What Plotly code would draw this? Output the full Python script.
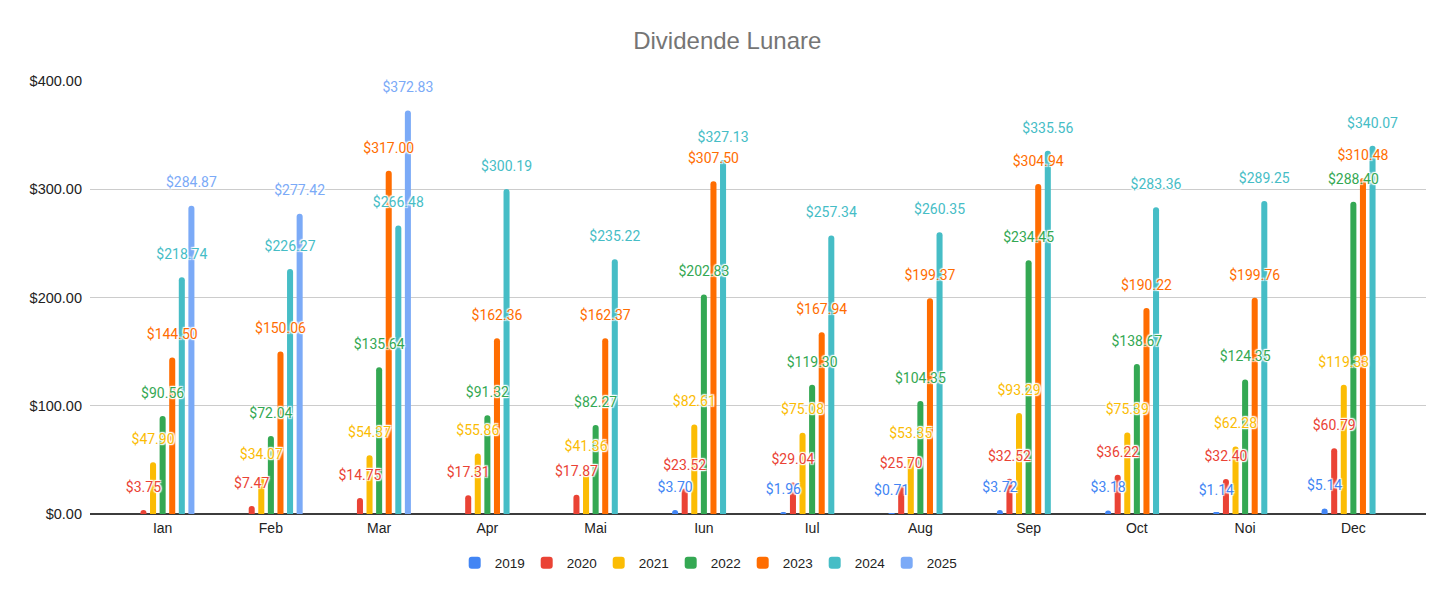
import plotly.graph_objects as go

# luni (categorii)
luni = ["Ian", "Feb", "Mar", "Apr", "Mai", "Iun", "Iul", "Aug", "Sep", "Oct", "Noi", "Dec"]

# dividende pe ani (None = lipsa)
d2019 = [None, None, None, None, None, 3.70, 1.96, 0.71, 3.72, 3.18, 1.14, 5.14]
d2020 = [3.75, 7.47, 14.75, 17.31, 17.87, 23.52, 29.04, 25.70, 32.52, 36.22, 32.40, 60.79]
d2021 = [47.90, 34.07, 54.37, 55.86, 41.36, 82.61, 75.08, 53.35, 93.29, 75.39, 62.28, 119.33]
d2022 = [90.56, 72.04, 135.64, 91.32, 82.27, 202.83, 119.30, 104.35, 234.45, 138.67, 124.35, 288.40]
d2023 = [144.50, 150.06, 317.00, 162.36, 162.37, 307.50, 167.94, 199.37, 304.94, 190.22, 199.76, 310.48]
d2024 = [218.74, 226.27, 266.48, 300.19, 235.22, 327.13, 257.34, 260.35, 335.56, 283.36, 289.25, 340.07]
d2025 = [284.87, 277.42, 372.83, None, None, None, None, None, None, None, None, None]

ani = ["2019", "2020", "2021", "2022", "2023", "2024", "2025"]
serii = [d2019, d2020, d2021, d2022, d2023, d2024, d2025]
culori = ["#4285F4", "#EA4335", "#FBBC04", "#34A853", "#FF6D01", "#46BDC6", "#7BAAF7"]

halo = "1px 1px 1px #fff, -1px -1px 1px #fff, 1px -1px 1px #fff, -1px 1px 1px #fff, 0px 0px 3px #fff"
GAP = 0.38

fig = go.Figure()
for an, vals, c in zip(ani, serii, culori):
    fig.add_trace(go.Bar(
        x=luni, y=vals, name=an,
        marker=dict(color=c, line=dict(width=0)),
        hovertemplate="%{x} " + an + ": $%{y:.2f}<extra></extra>",
    ))

# etichetele: scatter grupat ca barele, markerul invizibil da distanta fata de bara
for an, vals, c in zip(ani, serii, culori):
    fig.add_trace(go.Scatter(
        x=luni, y=vals, name=an, showlegend=False, hoverinfo="skip",
        mode="markers+text",
        marker=dict(size=22, color="rgba(0,0,0,0)", line=dict(width=0)),
        texttemplate="$%{y:.2f}",
        textposition="top center",
        cliponaxis=False,
        textfont=dict(family="Roboto", size=14, color=c, shadow=halo),
    ))

fig.update_layout(
    width=1456, height=601,
    paper_bgcolor="white", plot_bgcolor="white",
    margin=dict(l=82, r=38, t=73, b=95),
    title=dict(text="Dividende Lunare", x=0.494, xanchor="center", y=0.945, yanchor="middle",
               font=dict(family="Liberation Sans, Arial", size=24, color="#757575")),
    barmode="group",
    bargap=GAP,
    bargroupgap=0.37,
    barcornerradius=3,
    scattermode="group",
    scattergap=GAP,
    font=dict(family="Liberation Sans, Arial", size=14, color="#222222"),
    legend=dict(orientation="h", x=0.4616, xanchor="center", y=-0.113, yanchor="middle",
                font=dict(size=13.5, color="#222222"), entrywidth=27, itemwidth=30),
    showlegend=True,
)
fig.update_xaxes(showgrid=False, ticks="", tickfont=dict(size=14, color="#222222"),
                 showline=False, range=[-0.671, 11.671], ticklabelstandoff=4)
fig.update_yaxes(range=[0, 400], dtick=100, tickprefix="$", tickformat=".2f",
                 showgrid=True, gridcolor="#cccccc", gridwidth=1,
                 zeroline=True, zerolinecolor="#3c3c3c", zerolinewidth=2,
                 tickfont=dict(size=14.5, color="#222222"), ticklabelstandoff=7)

fig.write_html("out.html")
